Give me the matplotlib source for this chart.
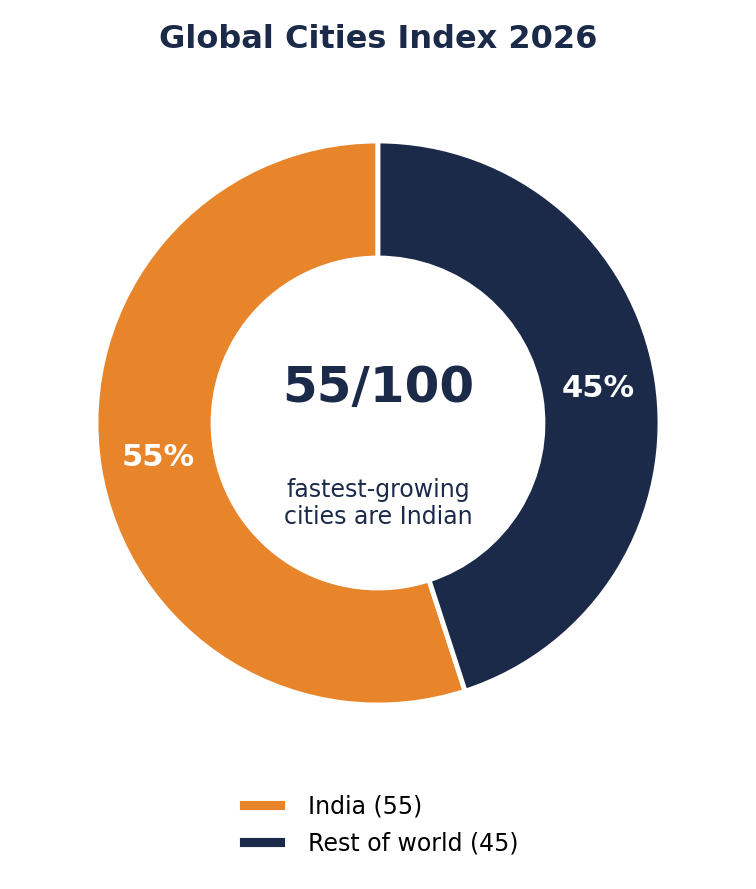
import matplotlib.pyplot as plt

labels = ["India (55)", "Rest of world (45)"]
values = [55, 45]
colors = ["#E8852B", "#1C2A4A"]
navy = "#1C2A4A"

fig = plt.figure(figsize=(7.56, 8.89), dpi=100)
ax = fig.add_axes([96 / 756, 184 / 889, 564 / 756, 564 / 889])

wedges, texts, autotexts = ax.pie(
    values, colors=colors, startangle=90, counterclock=True,
    autopct="%d%%", pctdistance=0.79,
    wedgeprops=dict(width=0.415, edgecolor="white", linewidth=3.5),
    textprops=dict(color="white", fontsize=22, fontweight="bold"),
)
ax.set_xlim(-1, 1)
ax.set_ylim(-1, 1)
ax.set_aspect("equal")

ax.text(0, 0.124, "55/100", ha="center", va="center",
        fontsize=36, fontweight="bold", color=navy)
ax.text(0, -0.284, "fastest-growing\ncities are Indian", ha="center", va="center",
        fontsize=17, color=navy, linespacing=1.15)

fig.text(0.5, 1 - 39 / 889, "Global Cities Index 2026", ha="center", va="center",
         fontsize=23, fontweight="bold", color=navy)

fig.legend(wedges, labels, loc="center", bbox_to_anchor=(0.5, 1 - 825 / 889),
           frameon=False, fontsize=17, handlelength=2.1, handleheight=0.5,
           handletextpad=0.9, labelspacing=0.55)

fig.savefig("out.png", dpi=100)
